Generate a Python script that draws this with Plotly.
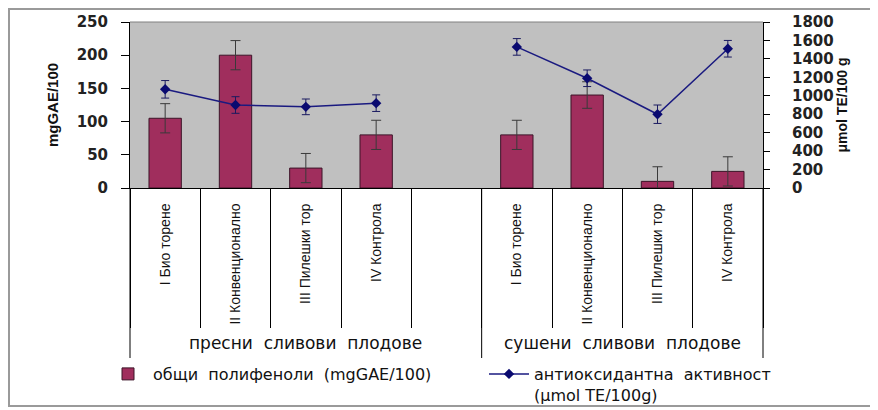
import plotly.graph_objects as go

# ---- data ----
categories = ["I Био торене", "II Конвенционално", "III Пилешки тор", "IV Контрола", "",
              "I Био торене", "II Конвенционално", "III Пилешки тор", "IV Контрола"]
polyphenols = [105, 200, 30, 80, None, 80, 140, 10, 25]
polyphenols_err = [22, 22, 22, 22, None, 22, 20, 22, 22]
antioxidant = [1070, 900, 880, 920, None, 1530, 1190, 800, 1510]
antioxidant_err = [95, 90, 85, 90, None, 90, 90, 100, 90]
group_labels = ["пресни  сливови  плодове", "сушени  сливови  плодове"]
group_spans = [(0, 4), (5, 8)]  # index ranges (inclusive)
bar_name = "общи  полифеноли  (mgGAE/100)"
line_name = "антиоксидантна  активност<br>(μmol TE/100g)"

W, H = 878, 410
OFF = 8  # page body margin offset in the screenshot
L, R, T, B = 122, 123, 14, 230
PW, PH = W - L - R, H - T - B

def sx(px):  # screen x pixel -> paper x
    return (px - OFF - L) / PW

def sy(py):  # screen y pixel -> paper y
    return (H - B - (py - OFF)) / PH

xs = list(range(len(categories)))
n = len(categories)

fig = go.Figure()
fig.add_trace(go.Bar(
    x=xs, y=polyphenols, name=bar_name, width=0.46, legend="legend",
    marker=dict(color="#A02E5D", line=dict(color="#3C1428", width=1)),
    error_y=dict(type="data", array=polyphenols_err, visible=True,
                 color="#3a3a3a", thickness=1, width=5),
    yaxis="y",
))
fig.add_trace(go.Scatter(
    x=xs, y=antioxidant, name=line_name, mode="lines+markers", legend="legend2",
    line=dict(color="#1a1a80", width=1.5),
    marker=dict(symbol="diamond", size=8, color="#0a0a70"),
    error_y=dict(type="data", array=antioxidant_err, visible=True,
                 color="#1a1a60", thickness=1, width=4),
    connectgaps=False, yaxis="y2",
))

shapes = []
# long group divider lines
bounds = [-0.5] + [g[1] + 0.5 for g in group_spans]
for b in bounds:
    xp = (b + 0.5) / n
    shapes.append(dict(type="line", xref="paper", yref="paper",
                       x0=xp, x1=xp, y0=0, y1=sy(358),
                       line=dict(color="black", width=1)))
# plot area border (top)
shapes.append(dict(type="line", xref="paper", yref="paper", x0=0, x1=1, y0=1, y1=1,
                   line=dict(color="#808080", width=1)))
# outer chart frame
shapes.append(dict(type="rect", xref="paper", yref="paper",
                   x0=sx(9), x1=sx(890), y0=sy(406), y1=sy(9),
                   line=dict(color="#9a9a9a", width=2), layer="below"))

annotations = []
for lab, (a, b) in zip(group_labels, group_spans):
    xc = ((a - 0.5) + (b + 0.5)) / 2
    annotations.append(dict(text=lab, x=xc, xref="x", y=sy(343), yref="paper",
                            showarrow=False, xanchor="center", yanchor="middle",
                            font=dict(family="DejaVu Sans", size=17, color="#111")))

legend_common = dict(orientation="h", xanchor="left", yanchor="top",
                     font=dict(family="DejaVu Sans", size=16, color="#111"),
                     itemwidth=40, bgcolor="rgba(0,0,0,0)", valign="top")

fig.update_layout(
    width=W, height=H,
    margin=dict(l=L, r=R, t=T, b=B, autoexpand=False),
    paper_bgcolor="white", plot_bgcolor="#C0C0C0",
    showlegend=True,
    legend=dict(x=sx(103), y=sy(357), **legend_common),
    legend2=dict(x=sx(484), y=sy(357), **legend_common),
    xaxis=dict(range=[-0.5, n - 0.5], tickmode="array", tickvals=xs, ticktext=categories,
               tickangle=-90, ticks="", ticklabelstandoff=9, automargin=False,
               tickfont=dict(family="Liberation Sans", size=14, color="#111"),
               showline=True, linecolor="black", linewidth=1, showgrid=False, zeroline=False,
               minor=dict(tickmode="linear", tick0=0.5, dtick=1, ticks="outside",
                          ticklen=139, tickcolor="black", tickwidth=1, showgrid=False)),
    yaxis=dict(range=[0, 250], dtick=50, ticks="outside", ticklen=8, tickcolor="black",
               showline=True, linecolor="black", linewidth=1, showgrid=False, zeroline=False,
               ticklabelstandoff=10, automargin=False,
               tickfont=dict(family="DejaVu Sans", size=15, color="#222", weight="bold"),
               title=dict(text="mgGAE/100", standoff=14,
                          font=dict(family="Liberation Sans", size=15, color="#111", weight="bold"))),
    yaxis2=dict(range=[0, 1800], dtick=200, overlaying="y", side="right",
                ticks="outside", ticklen=6, tickcolor="black",
                showline=True, linecolor="black", linewidth=1, showgrid=False, zeroline=False,
                ticklabelstandoff=19, automargin=False,
                tickfont=dict(family="DejaVu Sans", size=15, color="#222", weight="bold"),
                title=dict(text="μmol TE/100 g", standoff=0,
                           font=dict(family="Liberation Sans", size=14, color="#111", weight="bold"))),
    shapes=shapes, annotations=annotations,
)

fig.write_html("out.html")
